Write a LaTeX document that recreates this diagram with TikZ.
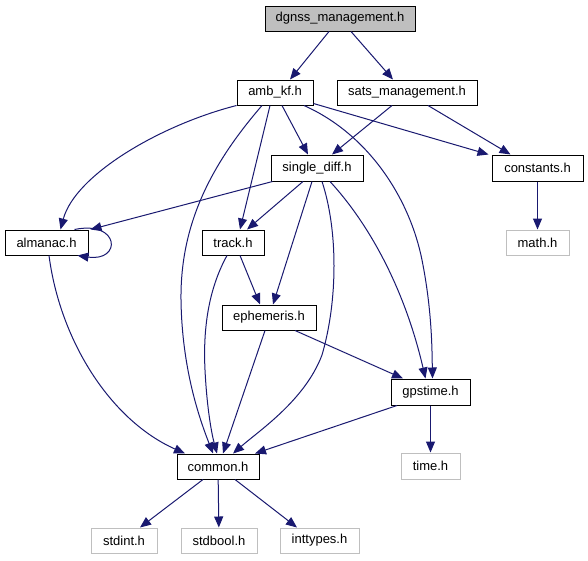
\documentclass[tikz,border=0pt]{standalone}
\usepackage{fontspec}
\setmainfont{Liberation Sans}
\usetikzlibrary{arrows.meta}
\definecolor{edgeblue}{HTML}{191970}
\definecolor{missgray}{HTML}{BFBFBF}
\begin{document}
\begin{tikzpicture}[x=1pt,y=-1pt,
  box/.style={draw=black,line width=1pt,inner sep=0pt,minimum height=25pt,font=\fontsize{13}{15}\selectfont,text=black},
  extbox/.style={box,draw=missgray},
  dep/.style={draw=edgeblue,line width=1pt,-{Triangle[length=11pt,width=9pt]}}]
\fill[white] (0,0) rectangle (588,560);
\useasboundingbox (0,0) rectangle (588,560);
% nodes
\node[box,fill=missgray,minimum width=150pt] (dgnss) at (340,18.5) {dgnss\_management.h};
\node[box,minimum width=76pt] (amb) at (275,92.5) {amb\_kf.h};
\node[box,minimum width=140pt] (sats) at (407,92.5) {sats\_management.h};
\node[box,minimum width=92pt,minimum height=26pt] (sd) at (317,168) {single\_diff.h};
\node[box,minimum width=91pt,minimum height=26pt] (const) at (537.5,168) {constants.h};
\node[box,minimum width=83pt] (alm) at (46.5,242.5) {almanac.h};
\node[box,minimum width=62pt] (track) at (233,242.5) {track.h};
\node[extbox,minimum width=63pt] (math) at (537.5,242.5) {math.h};
\node[box,minimum width=94pt] (eph) at (269,317.5) {ephemeris.h};
\node[box,minimum width=79pt,minimum height=26pt] (gps) at (430.5,392) {gpstime.h};
\node[box,minimum width=82pt] (common) at (218,466.5) {common.h};
\node[extbox,minimum width=59pt,minimum height=26pt] (time) at (430.5,466) {time.h};
\node[extbox,minimum width=66pt] (stdint) at (124,540.5) {stdint.h};
\node[extbox,minimum width=76pt] (stdbool) at (219,540.5) {stdbool.h};
\node[extbox,minimum width=79pt] (inttypes) at (319.5,540.5) {inttypes.h};
% edges
\draw[dep] ([xshift=-11pt]dgnss.south) -- ([xshift=15pt]amb.north);
\draw[dep] ([xshift=11pt]dgnss.south) -- ([xshift=-14pt]sats.north);
\draw[dep] (amb.south west) .. controls (160,125) and (75,175) .. ([xshift=14pt]alm.north);
\draw[dep] ([xshift=-13pt]amb.south) .. controls (215,160) and (180,220) .. (181,300) .. controls (182,370) and (200,420) .. ([xshift=-5pt]common.north);
\draw[dep] ([xshift=-5pt]amb.south) -- ([xshift=7pt]track.north);
\draw[dep] ([xshift=7pt]amb.south) -- ([xshift=-9pt]sd.north);
\draw[dep] ([xshift=29pt]amb.south) .. controls (370,135) and (410,200) .. (422,260) .. controls (432,310) and (432,350) .. ([xshift=2pt]gps.north);
\draw[dep] ([yshift=2pt]amb.south east) -- ([xshift=-3pt]const.north west);
\draw[dep] ([xshift=-15pt]sats.south) -- ([xshift=15pt]sd.north);
\draw[dep] ([xshift=21pt]sats.south) -- ([xshift=-27pt]const.north);
\draw[dep] ([xshift=2pt]sd.south west) -- ([xshift=2pt]alm.north east);
\draw[dep] ([xshift=-14pt]sd.south) -- ([xshift=14pt]track.north);
\draw[dep] ([xshift=-5pt]sd.south) -- ([xshift=4pt]eph.north);
\draw[dep] ([xshift=5pt]sd.south) .. controls (338,230) and (338,300) .. (322,355) .. controls (305,400) and (260,430) .. ([xshift=15pt]common.north);
\draw[dep] ([xshift=13pt]sd.south) .. controls (370,225) and (405,290) .. ([xshift=-5pt]gps.north);
\draw[dep] ([xshift=28pt]alm.north) .. controls (120,220) and (122,262) .. ([xshift=31pt]alm.south);
\draw[dep] ([xshift=2.5pt]alm.south) .. controls (60,340) and (110,420) .. ([xshift=-33pt]common.north);
\draw[dep] ([xshift=-6pt]track.south) .. controls (208,290) and (203,330) .. (205,370) .. controls (207,410) and (212,435) .. ([xshift=-1pt]common.north);
\draw[dep] ([xshift=7pt]track.south) -- ([xshift=-9pt]eph.north);
\draw[dep] ([xshift=-4pt]eph.south) -- ([xshift=5pt]common.north);
\draw[dep] ([xshift=26pt]eph.south) -- ([xshift=-27.5pt]gps.north);
\draw[dep] ([xshift=-33.5pt]gps.south) -- ([xshift=37pt]common.north);
\draw[dep] (gps) -- (time);
\draw[dep] (const) -- (math);
\draw[dep] ([xshift=-15pt]common.south) -- ([xshift=16pt]stdint.north);
\draw[dep] (common) -- (stdbool);
\draw[dep] ([xshift=17pt]common.south) -- ([xshift=-22.5pt]inttypes.north);
\end{tikzpicture}
\end{document}
